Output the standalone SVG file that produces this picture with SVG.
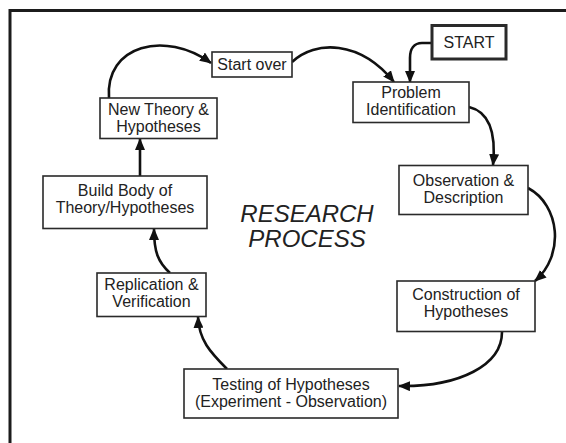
<svg xmlns="http://www.w3.org/2000/svg" width="566" height="443" viewBox="0 0 566 443">
<style>
.box{fill:#fff;stroke:#2a2a2a;stroke-width:1.6}
.thick{stroke-width:3}
.t{font-family:"Liberation Sans",Arial,sans-serif;font-size:16px;fill:#222;text-anchor:middle}
.title{font-family:"Liberation Sans",Arial,sans-serif;font-size:24px;font-style:italic;fill:#222;text-anchor:middle}
.c{fill:none;stroke:#111;stroke-width:2.6}
</style>
<defs>
<marker id="ah" markerUnits="userSpaceOnUse" markerWidth="12" markerHeight="10" viewBox="0 0 12 10" refX="11" refY="5" orient="auto">
<path d="M0,0 L12,5 L0,10 z" fill="#111"/>
</marker>
</defs>
<rect width="566" height="443" fill="#fff"/>
<path d="M10 443 L10 10.5 L566 10.5" fill="none" stroke="#1c1c1c" stroke-width="3"/>
<g id="connectors">
<path class="c" marker-end="url(#ah)" d="M432 43 L422 43 C414 43 410 49 410 58 L410 82"/>
<path class="c" marker-end="url(#ah)" d="M292 62 C315 40 360 40 394 82"/>
<path class="c" marker-end="url(#ah)" d="M109 98 C105 45 165 30 211 63"/>
<path class="c" marker-end="url(#ah)" d="M469 107 C490 112 496 135 493 165"/>
<path class="c" marker-end="url(#ah)" d="M528 188 C560 205 565 255 535 281"/>
<path class="c" marker-end="url(#ah)" d="M502 332 C502 365 460 387 399 386"/>
<path class="c" marker-end="url(#ah)" d="M227 369 C210 352 199 340 198 317"/>
<path class="c" marker-end="url(#ah)" d="M170 273 C158 262 154 252 154 229"/>
<path class="c" marker-end="url(#ah)" d="M140 176 L140 139"/>
</g>
<g id="start">
<rect class="box thick" x="432" y="25.5" width="74" height="33.5"/>
<text class="t" x="469" y="48">START</text>
</g>
<g id="start-over">
<rect class="box" x="212" y="52" width="80" height="25"/>
<text class="t" x="252" y="70">Start over</text>
</g>
<g id="problem">
<rect class="box" x="353" y="82" width="116" height="40.5"/>
<text class="t" x="411" y="98">Problem</text>
<text class="t" x="411" y="115">Identification</text>
</g>
<g id="new-theory">
<rect class="box" x="100" y="98" width="117" height="40.5"/>
<text class="t" x="158.5" y="115">New Theory &amp;</text>
<text class="t" x="158.5" y="132">Hypotheses</text>
</g>
<g id="build-body">
<rect class="box" x="43" y="176" width="164" height="52.5"/>
<text class="t" x="125" y="196">Build Body of</text>
<text class="t" x="125" y="213">Theory/Hypotheses</text>
</g>
<g id="observation">
<rect class="box" x="399" y="165.5" width="129" height="49"/>
<text class="t" x="463.5" y="186">Observation &amp;</text>
<text class="t" x="463.5" y="203">Description</text>
</g>
<g id="construction">
<rect class="box" x="397" y="281" width="138" height="50.5"/>
<text class="t" x="466" y="300">Construction of</text>
<text class="t" x="466" y="317">Hypotheses</text>
</g>
<g id="replication">
<rect class="box" x="97" y="273" width="109" height="43.5"/>
<text class="t" x="151.5" y="290">Replication &amp;</text>
<text class="t" x="151.5" y="307">Verification</text>
</g>
<g id="testing">
<rect class="box" x="184" y="369" width="214" height="49"/>
<text class="t" x="291" y="390">Testing of Hypotheses</text>
<text class="t" x="291" y="407">(Experiment - Observation)</text>
</g>
<g id="title">
<text class="title" x="307" y="222">RESEARCH</text>
<text class="title" x="307" y="247">PROCESS</text>
</g>
</svg>
